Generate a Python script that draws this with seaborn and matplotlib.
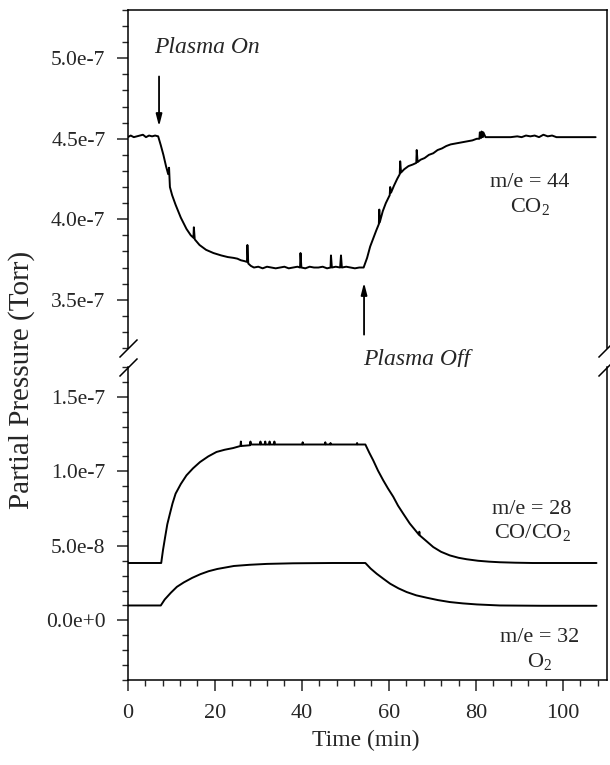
import matplotlib
matplotlib.use("Agg")
import matplotlib.pyplot as plt
from matplotlib.ticker import MultipleLocator, FixedLocator, FixedFormatter
import seaborn as sns
import pandas as pd

# ---------------- data (pressure values in units of 1e-7 Torr) ----------------
co2_time = [
    0.0, 0.7, 1.4, 2.1, 2.8, 3.5, 4.2, 4.9, 5.6, 6.3,
    7.0, 7.6, 8.2, 8.8, 9.3, 9.5, 9.7, 10.2, 11.0, 12.2,
    13.5, 14.5, 15.1, 15.2, 15.4, 16.5, 18.0, 19.7, 21.5, 23.0,
    24.3, 25.2, 26.0, 26.8, 27.4, 27.5, 27.7, 28.3, 29.0, 30.0,
    31.0, 32.0, 33.0, 34.0, 35.0, 36.0, 37.0, 38.0, 39.0, 39.6,
    39.7, 39.9, 40.8, 41.8, 42.8, 43.8, 44.8, 45.8, 46.6, 46.7,
    46.9, 47.8, 48.8, 49.0, 49.2, 50.2, 51.2, 52.2, 53.2, 54.2,
    55.0, 55.7, 56.4, 57.1, 57.7, 57.8, 57.9, 58.6, 59.3, 60.0,
    60.2, 60.3, 60.5, 61.2, 61.9, 62.5, 62.6, 62.8, 63.5, 64.5,
    65.5, 66.3, 66.4, 66.6, 67.3, 68.2, 69.2, 70.2, 71.2, 72.2,
    73.2, 74.2, 75.2, 76.2, 77.2, 78.2, 79.2, 80.2, 80.8, 80.9,
    81.2, 81.3, 81.6, 81.7, 82.2, 83.5, 85.0, 86.5, 88.0, 89.5,
    90.5, 91.5, 92.5, 93.5, 94.5, 95.5, 96.5, 97.5, 98.5, 100.0,
    102.0, 104.0, 106.0, 107.5,
]
co2_value = [
    4.51, 4.52, 4.51, 4.515, 4.52, 4.525, 4.51, 4.52, 4.515, 4.52,
    4.515, 4.46, 4.40, 4.33, 4.28, 4.32, 4.20, 4.15, 4.09, 4.01,
    3.94, 3.90, 3.885, 3.95, 3.875, 3.84, 3.81, 3.79, 3.775, 3.765,
    3.76, 3.755, 3.745, 3.74, 3.735, 3.84, 3.725, 3.71, 3.70, 3.705,
    3.695, 3.705, 3.70, 3.695, 3.70, 3.705, 3.695, 3.70, 3.705, 3.70,
    3.79, 3.70, 3.695, 3.705, 3.70, 3.70, 3.705, 3.695, 3.70, 3.775,
    3.70, 3.705, 3.70, 3.775, 3.70, 3.705, 3.70, 3.695, 3.70, 3.70,
    3.76, 3.83, 3.88, 3.93, 3.97, 4.06, 3.98, 4.05, 4.10, 4.14,
    4.15, 4.20, 4.165, 4.21, 4.25, 4.28, 4.36, 4.29, 4.31, 4.33,
    4.34, 4.35, 4.43, 4.355, 4.37, 4.38, 4.40, 4.41, 4.43, 4.44,
    4.455, 4.465, 4.47, 4.475, 4.48, 4.485, 4.49, 4.50, 4.50, 4.54,
    4.505, 4.545, 4.51, 4.54, 4.51, 4.51, 4.51, 4.51, 4.51, 4.515,
    4.51, 4.52, 4.515, 4.52, 4.51, 4.525, 4.515, 4.52, 4.51, 4.51,
    4.51, 4.51, 4.51, 4.51,
]

co_time = [
    0.0, 7.7, 8.1, 8.6, 9.1, 9.7, 10.3, 11.0, 12.2, 13.5,
    15.0, 16.6, 18.5, 20.4, 22.3, 24.2, 25.9, 26.0, 26.1, 28.1,
    28.2, 28.3, 30.4, 30.5, 30.6, 31.5, 31.6, 31.7, 32.5, 32.6,
    32.7, 33.6, 33.7, 33.8, 40.1, 40.2, 40.3, 45.3, 45.4, 45.5,
    46.5, 46.6, 46.7, 52.6, 52.7, 52.8, 54.6, 55.5, 56.4, 57.5,
    58.7, 59.8, 61.0, 62.1, 63.3, 64.8, 66.4, 66.9, 67.0, 67.1,
    68.3, 70.2, 72.0, 74.0, 76.0, 77.9, 80.5, 83.0, 85.5, 89.0,
    93.0, 100.0, 107.7,
]
co_value = [
    0.385, 0.385, 0.47, 0.559, 0.645, 0.716, 0.785, 0.85, 0.915, 0.973,
    1.02, 1.062, 1.10, 1.13, 1.145, 1.156, 1.17, 1.20, 1.17, 1.175,
    1.20, 1.18, 1.18, 1.20, 1.18, 1.18, 1.20, 1.18, 1.18, 1.20,
    1.18, 1.18, 1.20, 1.18, 1.18, 1.195, 1.18, 1.18, 1.195, 1.18,
    1.18, 1.19, 1.18, 1.18, 1.19, 1.18, 1.18, 1.125, 1.074, 1.005,
    0.94, 0.885, 0.83, 0.77, 0.716, 0.65, 0.593, 0.575, 0.595, 0.57,
    0.54, 0.492, 0.46, 0.436, 0.42, 0.41, 0.40, 0.394, 0.39, 0.387,
    0.385, 0.385, 0.385,
]

o2_time = [
    0.0, 7.6, 8.5, 9.9, 11.3, 12.9, 14.8, 16.7, 18.6, 20.6,
    22.5, 24.4, 28.0, 32.0, 38.0, 47.0, 54.6, 55.8, 57.2, 58.8,
    60.3, 62.2, 64.1, 66.3, 68.7, 71.3, 74.0, 77.0, 80.2, 85.5,
    95.0, 107.7,
]
o2_value = [
    0.10, 0.10, 0.14, 0.185, 0.225, 0.255, 0.285, 0.31, 0.33, 0.345,
    0.355, 0.365, 0.373, 0.379, 0.383, 0.385, 0.385, 0.348, 0.313, 0.278,
    0.246, 0.215, 0.19, 0.168, 0.152, 0.136, 0.123, 0.114, 0.107, 0.10,
    0.098, 0.098,
]

top_ticks = [3.5, 4.0, 4.5, 5.0]
top_tick_labels = ["3.5e-7", "4.0e-7", "4.5e-7", "5.0e-7"]
bot_ticks = [0.0, 0.5, 1.0, 1.5]
bot_tick_labels = ["0.0e+0", "5.0e-8", "1.0e-7", "1.5e-7"]
x_ticks = [0, 20, 40, 60, 80, 100]

# ---------------- style ----------------
sns.set_style("ticks")
plt.rcParams['font.family'] = ['Liberation Serif', 'DejaVu Serif']
plt.rcParams['mathtext.fontset'] = 'custom'
plt.rcParams['mathtext.rm'] = 'Liberation Serif'
plt.rcParams['mathtext.it'] = 'Liberation Serif:italic'
plt.rcParams['axes.linewidth'] = 1.1

W, H = 610, 765
fig = plt.figure(figsize=(W / 100, H / 100), dpi=100)
left = 127.7 / W
width = (606.5 - 127.7) / W
ax_top = fig.add_axes([left, 1 - 348 / H, width, (348 - 10) / H])
ax_bot = fig.add_axes([left, 1 - 680 / H, width, (680 - 367) / H])

df_co2 = pd.DataFrame({"t": co2_time, "p": co2_value})
df_co = pd.DataFrame({"t": co_time, "p": co_value})
df_o2 = pd.DataFrame({"t": o2_time, "p": o2_value})

line_kw = dict(color="black", linewidth=1.4, estimator=None, sort=False)
sns.lineplot(data=df_co2, x="t", y="p", ax=ax_top, **line_kw)
sns.lineplot(data=df_co, x="t", y="p", ax=ax_bot, **line_kw)
sns.lineplot(data=df_o2, x="t", y="p", ax=ax_bot, **line_kw)

for ax in (ax_top, ax_bot):
    ax.set_xlim(0, 110)
    ax.set_xlabel("")
    ax.set_ylabel("")
    ax.yaxis.set_minor_locator(MultipleLocator(0.1))
    ax.tick_params(axis="y", which="major", direction="out", length=8,
                   width=1.1, labelsize=15.5, pad=8, right=False)
    ax.tick_params(axis="y", which="minor", direction="out", length=4,
                   width=1.0, right=False)
    for s in ax.spines.values():
        s.set_linewidth(1.1)
        s.set_color("black")

ax_top.set_ylim(3.2, 5.3)
ax_top.yaxis.set_major_locator(FixedLocator(top_ticks))
ax_top.yaxis.set_major_formatter(FixedFormatter(top_tick_labels))
ax_top.spines["bottom"].set_visible(False)
ax_top.tick_params(axis="x", which="both", bottom=False, top=False,
                   labelbottom=False)

ax_bot.set_ylim(-0.4, 1.7)
ax_bot.yaxis.set_major_locator(FixedLocator(bot_ticks))
ax_bot.yaxis.set_major_formatter(FixedFormatter(bot_tick_labels))
ax_bot.spines["top"].set_visible(False)
ax_bot.set_xticks(x_ticks)
ax_bot.xaxis.set_minor_locator(MultipleLocator(4))
ax_bot.tick_params(axis="x", which="major", direction="out", length=8,
                   width=1.1, labelsize=16, pad=9, top=False)
ax_bot.tick_params(axis="x", which="minor", direction="out", length=4,
                   width=1.0, top=False)

# break marks
brk = dict(marker=[(-1, -1), (1, 1)], markersize=13, linestyle="none",
           color="black", mec="black", mew=1.1, clip_on=False)
ax_top.plot([0, 1], [0, 0], transform=ax_top.transAxes, **brk)
ax_bot.plot([0, 1], [1, 1], transform=ax_bot.transAxes, **brk)

# annotations
arrow = dict(arrowstyle="-|>,head_length=0.7,head_width=0.18",
             color="black", lw=1.3, shrinkA=0, shrinkB=0)
ax_top.annotate("", xy=(7.2, 4.577), xytext=(7.2, 4.887), arrowprops=arrow)
ax_top.text(18.3, 5.068, "Plasma On", style="italic", fontsize=17,
            ha="center", va="center")
ax_top.annotate("", xy=(54.3, 3.606), xytext=(54.3, 3.283), arrowprops=arrow,
                annotation_clip=False)
ax_top.text(66.5, 3.13, "Plasma Off", style="italic", fontsize=17,
            ha="center", va="center", clip_on=False)

ax_top.text(92.4, 4.15, "m/e = 44\nCO$_2$", fontsize=16, ha="center",
            va="center", multialignment="center", linespacing=1.25)
ax_bot.text(92.9, 0.665, "m/e = 28\nCO/CO$_2$", fontsize=16, ha="center",
            va="center", multialignment="center", linespacing=1.2)
ax_bot.text(94.7, -0.2, "m/e = 32\nO$_2$", fontsize=16, ha="center",
            va="center", multialignment="center", linespacing=1.25)

fig.text(22 / W, 1 - 380 / H, "Partial Pressure (Torr)", rotation=90,
         fontsize=21, ha="center", va="center")
fig.text(366 / W, 1 - 740 / H, "Time (min)", fontsize=17, ha="center",
         va="center")

fig.savefig("out.png", dpi=100)
